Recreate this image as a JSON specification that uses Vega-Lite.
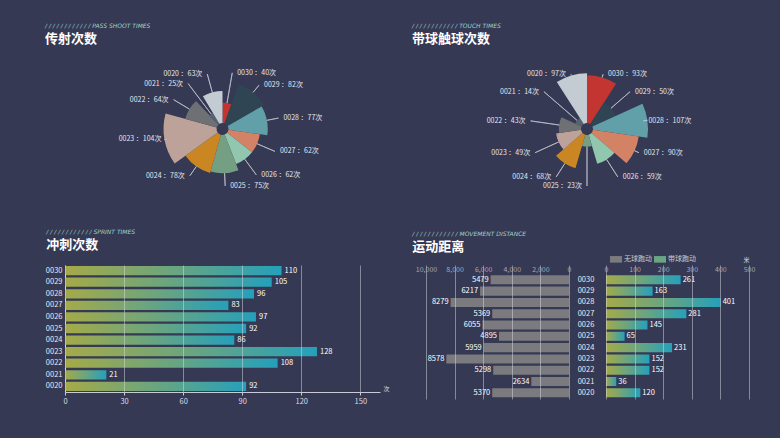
{
  "$schema": "https://vega.github.io/schema/vega-lite/v6.json",
  "background": "#353954",
  "padding": {"left": 45, "top": 23, "right": 40, "bottom": 60},
  "spacing": 22,
  "resolve": {"scale": {"fill": "independent", "color": "independent"}, "legend": {"fill": "independent", "color": "independent"}},
  "datasets": {
    "pass": [
      {"id": "0030", "value": 40, "label": "0030 ：40次"},
      {"id": "0029", "value": 82, "label": "0029 ：82次"},
      {"id": "0028", "value": 77, "label": "0028 ：77次"},
      {"id": "0027", "value": 62, "label": "0027 ：62次"},
      {"id": "0026", "value": 62, "label": "0026 ：62次"},
      {"id": "0025", "value": 75, "label": "0025 ：75次"},
      {"id": "0024", "value": 78, "label": "0024 ：78次"},
      {"id": "0023", "value": 104, "label": "0023 ：104次"},
      {"id": "0022", "value": 64, "label": "0022 ：64次"},
      {"id": "0021", "value": 25, "label": "0021 ：25次"},
      {"id": "0020", "value": 63, "label": "0020 ：63次"}
    ],
    "touch": [
      {"id": "0030", "value": 93, "label": "0030 ：93次"},
      {"id": "0029", "value": 50, "label": "0029 ：50次"},
      {"id": "0028", "value": 107, "label": "0028 ：107次"},
      {"id": "0027", "value": 90, "label": "0027 ：90次"},
      {"id": "0026", "value": 59, "label": "0026 ：59次"},
      {"id": "0025", "value": 23, "label": "0025 ：23次"},
      {"id": "0024", "value": 68, "label": "0024 ：68次"},
      {"id": "0023", "value": 49, "label": "0023 ：49次"},
      {"id": "0022", "value": 43, "label": "0022 ：43次"},
      {"id": "0021", "value": 14, "label": "0021 ：14次"},
      {"id": "0020", "value": 97, "label": "0020 ：97次"}
    ],
    "sprint": [
      {"id": "0030", "value": 110},
      {"id": "0029", "value": 105},
      {"id": "0028", "value": 96},
      {"id": "0027", "value": 83},
      {"id": "0026", "value": 97},
      {"id": "0025", "value": 92},
      {"id": "0024", "value": 86},
      {"id": "0023", "value": 128},
      {"id": "0022", "value": 108},
      {"id": "0021", "value": 21},
      {"id": "0020", "value": 92}
    ],
    "move": [
      {"id": "0030", "free": 5479, "ball": 261},
      {"id": "0029", "free": 6217, "ball": 163},
      {"id": "0028", "free": 8279, "ball": 401},
      {"id": "0027", "free": 5369, "ball": 281},
      {"id": "0026", "free": 6055, "ball": 145},
      {"id": "0025", "free": 4895, "ball": 65},
      {"id": "0024", "free": 5959, "ball": 231},
      {"id": "0023", "free": 8578, "ball": 152},
      {"id": "0022", "free": 5298, "ball": 152},
      {"id": "0021", "free": 2634, "ball": 36},
      {"id": "0020", "free": 5370, "ball": 120}
    ]
  },
  "config": {
    "font": "Noto Sans CJK SC",
    "view": {"stroke": null},
    "title": {
      "anchor": "start", "frame": "bounds", "font": "DejaVu Sans", "fontSize": 6, "fontStyle": "italic",
      "fontWeight": "normal", "color": "#9fd3d0", "subtitleFont": "Noto Sans CJK SC", "subtitleFontSize": 13,
      "subtitleFontWeight": "bold", "subtitleColor": "#ffffff", "subtitlePadding": 4
    },
    "axis": {
      "labelFont": "Noto Sans CJK SC", "labelFontSize": 7.5, "labelColor": "#d9dce4", "labelOverlap": false, "labelFlush": false,
      "domainColor": "#c9ccd6", "tickColor": "#c9ccd6", "gridColor": "#d8dae0", "gridOpacity": 0.5,
      "titleFont": "Noto Sans CJK SC", "titleFontWeight": "normal", "titleFontSize": 7, "titleColor": "#d9dce4"
    }
  },
  "vconcat": [
    {
      "resolve": {"scale": {"theta": "independent", "radius": "independent"}},
      "hconcat": [
        {
          "width": 315, "height": 156,
          "data": {"name": "pass"},
          "title": {"text": "/ / / / / / / / / / / /  PASS SHOOT TIMES", "subtitle": "传射次数", "dx": -20, "offset": 5},
          "layer": [
            {
              "transform": [
                {"stack": "value", "groupby": [], "sort": [{"field": "id", "order": "descending"}], "as": ["s0", "s1"]}
              ],
              "mark": {"type": "arc", "innerRadius": 6},
              "encoding": {
                "theta": {"field": "s0", "type": "quantitative", "stack": null},
                "theta2": {"field": "s1"},
                "radius": {"field": "value", "type": "quantitative", "scale": {"type": "linear", "zero": true, "nice": false, "range": [6, 59]}},
                "color": {"field": "id", "type": "nominal", "legend": null,
                  "scale": {"domain": ["0030","0029","0028","0027","0026","0025","0024","0023","0022","0021","0020"],
                            "range": ["#c23531","#2f4554","#61a0a8","#d48265","#91c7ae","#749f83","#ca8622","#bda29a","#6e7074","#546570","#c4ccd3"]}}
              }
            },
            {
              "transform": [
                {"stack": "value", "groupby": [], "sort": [{"field": "id", "order": "descending"}], "as": ["s0", "s1"]}
              ],
              "mark": {"type": "arc", "padAngle": 3, "fillOpacity": 0, "stroke": "#c3c7d1", "strokeWidth": 0.7},
              "encoding": {
                "theta": {"field": "s0", "type": "quantitative", "stack": null},
                "theta2": {"field": "s1"},
                "radius": {"field": "value", "type": "quantitative"},
                "radius2": {"value": 57}
              }
            },
            {
              "mark": {"type": "text", "align": "left", "dx": 5, "fontSize": 7, "color": "#e4e6ee"},
              "encoding": {
                "theta": {"field": "value", "type": "quantitative", "stack": true},
                "radius": {"value": 57},
                "detail": {"field": "id"},
                "order": {"field": "id", "sort": "descending"},
                "text": {"condition": {"test": "datum.id >= '0025'", "field": "label"}, "value": ""}
              }
            },
            {
              "mark": {"type": "text", "align": "right", "dx": -5, "fontSize": 7, "color": "#e4e6ee"},
              "encoding": {
                "theta": {"field": "value", "type": "quantitative", "stack": true},
                "radius": {"value": 57},
                "detail": {"field": "id"},
                "order": {"field": "id", "sort": "descending"},
                "text": {"condition": {"test": "datum.id < '0025'", "field": "label"}, "value": ""}
              }
            }
          ]
        },
        {
          "width": 322, "height": 156,
          "data": {"name": "touch"},
          "title": {"text": "/ / / / / / / / / / / /  TOUCH TIMES", "subtitle": "带球触球次数", "dx": -14, "offset": 5},
          "layer": [
            {
              "transform": [
                {"aggregate": [{"op": "count", "as": "n"}], "groupby": ["id", "value"]},
                {"stack": "n", "groupby": [], "sort": [{"field": "id", "order": "descending"}], "as": ["s0", "s1"]}
              ],
              "mark": {"type": "arc", "innerRadius": 6},
              "encoding": {
                "theta": {"field": "s0", "type": "quantitative", "stack": null},
                "theta2": {"field": "s1"},
                "radius": {"field": "value", "type": "quantitative", "scale": {"type": "linear", "zero": true, "nice": false, "range": [6, 61]}},
                "color": {"field": "id", "type": "nominal", "legend": null,
                  "scale": {"domain": ["0030","0029","0028","0027","0026","0025","0024","0023","0022","0021","0020"],
                            "range": ["#c23531","#2f4554","#61a0a8","#d48265","#91c7ae","#749f83","#ca8622","#bda29a","#6e7074","#546570","#c4ccd3"]}}
              }
            },
            {
              "transform": [
                {"aggregate": [{"op": "count", "as": "n"}], "groupby": ["id", "value"]},
                {"stack": "n", "groupby": [], "sort": [{"field": "id", "order": "descending"}], "as": ["s0", "s1"]}
              ],
              "mark": {"type": "arc", "padAngle": 3, "fillOpacity": 0, "stroke": "#c3c7d1", "strokeWidth": 0.7},
              "encoding": {
                "theta": {"field": "s0", "type": "quantitative", "stack": null},
                "theta2": {"field": "s1"},
                "radius": {"field": "value", "type": "quantitative"},
                "radius2": {"value": 57}
              }
            },
            {
              "mark": {"type": "text", "align": "left", "dx": 5, "fontSize": 7, "color": "#e4e6ee"},
              "encoding": {
                "theta": {"aggregate": "count", "type": "quantitative", "stack": true},
                "radius": {"value": 57},
                "detail": {"field": "id"},
                "order": {"field": "id", "sort": "descending"},
                "text": {"condition": {"test": "datum.id > '0025'", "field": "label"}, "value": ""}
              }
            },
            {
              "mark": {"type": "text", "align": "right", "dx": -5, "fontSize": 7, "color": "#e4e6ee"},
              "encoding": {
                "theta": {"aggregate": "count", "type": "quantitative", "stack": true},
                "radius": {"value": 57},
                "detail": {"field": "id"},
                "order": {"field": "id", "sort": "descending"},
                "text": {"condition": {"test": "datum.id <= '0025'", "field": "label"}, "value": ""}
              }
            }
          ]
        }
      ],
      "spacing": 46,
      "bounds": "flush"
    },
    {
      "resolve": {"scale": {"fill": "independent"}, "legend": {"fill": "independent"}},
      "hconcat": [
        {
          "width": 315, "height": 127,
          "data": {"name": "sprint"},
          "title": {"text": "/ / / / / / / / / / / /  SPRINT TIMES", "subtitle": "冲刺次数", "dx": 1, "offset": 13},
          "encoding": {
            "y": {"field": "id", "type": "nominal", "sort": "descending",
              "scale": {"paddingInner": 0.2, "paddingOuter": 0.09},
              "axis": {"title": null, "ticks": false, "labelPadding": 3, "labelColor": "#e8eaef", "domainColor": "#d8dae0"}}
          },
          "layer": [
            {
              "mark": {"type": "bar", "color": {"gradient": "linear", "x1": 0, "y1": 0, "x2": 1, "y2": 0,
                "stops": [{"offset": 0, "color": "#a5aa48"}, {"offset": 0.5, "color": "#6aa580"}, {"offset": 1, "color": "#25a0bb"}]}},
              "encoding": {
                "x": {"field": "value", "type": "quantitative", "scale": {"domain": [0, 150]},
                  "axis": {"values": [0, 30, 60, 90, 120, 150], "tickCount": 6, "grid": true, "zindex": 1, "tickSize": 3, "labelOverlap": false, "labelFlush": false,
                    "title": "次", "titleAnchor": "end", "titleAlign": "left", "titleX": 318, "titleY": -1, "titleBaseline": "bottom", "titleFontSize": 6}}
              }
            },
            {
              "mark": {"type": "text", "align": "left", "dx": 3, "fontSize": 7.5, "color": "#ffffff"},
              "encoding": {
                "x": {"field": "value", "type": "quantitative"},
                "text": {"field": "value", "type": "quantitative"}
              }
            }
          ]
        },
        {
          "width": 152, "height": 134,
          "data": {"name": "move"},
          "title": {"text": "/ / / / / / / / / / / /  MOVEMENT DISTANCE", "subtitle": "运动距离", "dx": -3, "offset": 11},
          "encoding": {
            "y": {"field": "id", "type": "nominal", "sort": "descending",
              "scale": {"paddingInner": 0.2, "paddingOuter": 0.53, "align": 0.86},
              "axis": null}
          },
          "layer": [
            {
              "mark": {"type": "bar", "color": "#7b7a7e"},
              "encoding": {
                "x": {"field": "free", "type": "quantitative", "scale": {"domain": [0, 10629], "reverse": true, "nice": false},
                  "axis": {"orient": "top", "values": [0, 2000, 4000, 6000, 8000, 10000], "tickCount": 6, "labelExpr": "format(datum.value, ',')", "grid": true, "zindex": 1,
                    "labelOverlap": false, "labelFlush": false,
                    "domain": false, "ticks": false, "tickSize": 0, "labelPadding": 2, "offset": -9, "title": null, "labelColor": "#a4a8b4", "labelFontSize": 7}}
              }
            },
            {
              "mark": {"type": "text", "align": "right", "dx": -2, "fontSize": 7.5, "color": "#ffffff"},
              "encoding": {
                "x": {"field": "free", "type": "quantitative"},
                "text": {"field": "free", "type": "quantitative", "format": "d"}
              }
            }
          ]
        },
        {
          "width": 143, "height": 134,
          "data": {"name": "move"},
          "encoding": {
            "y": {"field": "id", "type": "nominal", "sort": "descending",
              "scale": {"paddingInner": 0.2, "paddingOuter": 0.53, "align": 0.86},
              "axis": {"title": null, "ticks": false, "tickSize": 0, "domain": false, "labelAlign": "center", "labelPadding": 20.5, "labelColor": "#e8eaef"}}
          },
          "layer": [
            {
              "mark": {"type": "bar", "fill": {"gradient": "linear", "x1": 0, "y1": 0, "x2": 1, "y2": 0,
                "stops": [{"offset": 0, "color": "#a5aa48"}, {"offset": 0.5, "color": "#6aa580"}, {"offset": 1, "color": "#25a0bb"}]}},
              "encoding": {
                "x": {"field": "ball", "type": "quantitative", "scale": {"domain": [0, 500]},
                  "axis": {"orient": "top", "values": [0, 100, 200, 300, 400, 500], "tickCount": 6, "grid": true, "zindex": 1,
                    "labelOverlap": false, "labelFlush": false,
                    "domain": false, "ticks": false, "tickSize": 0, "labelPadding": 2, "offset": -9, "labelColor": "#a4a8b4", "labelFontSize": 7,
                    "title": "米", "titleAnchor": "end", "titlePadding": 3, "titleFontSize": 6}}
              }
            },
            {
              "mark": {"type": "bar", "opacity": 0},
              "encoding": {
                "x": {"field": "ball", "type": "quantitative"},
                "fill": {"datum": "带球跑动", "type": "nominal",
                  "scale": {"domain": ["无球跑动", "带球跑动"], "range": ["#7b7a7e", "#69a585"]},
                  "legend": {"title": null, "orient": "none", "legendX": 4, "legendY": -12, "direction": "horizontal",
                    "symbolType": "M-1,-0.55H1V0.55H-1Z", "symbolSize": 144, "symbolStrokeWidth": 0, "symbolOpacity": 1,
                    "labelColor": "#c8ccd6", "labelFontSize": 7, "labelOffset": 2, "columnPadding": 2,
                    "encode": {"symbols": {"update": {"fill": [
                      {"test": "datum.value === '带球跑动'", "value": {"gradient": "linear", "x1": 0, "y1": 0, "x2": 1, "y2": 0,
                        "stops": [{"offset": 0, "color": "#a5aa48"}, {"offset": 1, "color": "#25a0bb"}]}},
                      {"value": "#7b7a7e"}]}}}}}
              }
            },
            {
              "mark": {"type": "text", "align": "left", "dx": 2, "fontSize": 7.5, "color": "#ffffff"},
              "encoding": {
                "x": {"field": "ball", "type": "quantitative"},
                "text": {"field": "ball", "type": "quantitative"}
              }
            }
          ]
        }
      ],
      "spacing": 37,
      "bounds": "flush"
    }
  ]
}
